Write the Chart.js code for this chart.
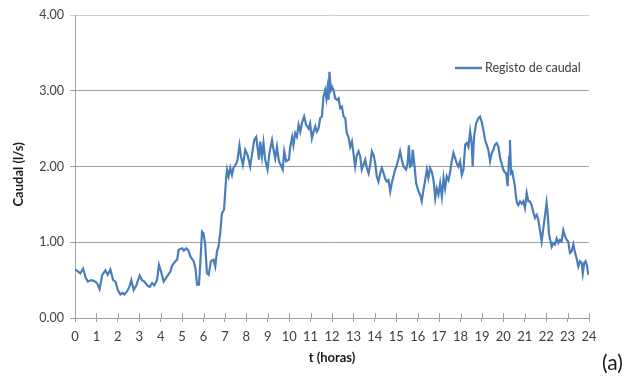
<!DOCTYPE html>
<html>
<head>
<meta charset="utf-8">
<script src="https://cdn.jsdelivr.net/npm/chart.js@4.4.0/dist/chart.umd.min.js"></script>
<style>
  html, body { margin: 0; padding: 0; background: #fff; }
  #wrap { position: relative; width: 629px; height: 379px; }
  #tag { position: absolute; left: 602px; top: 349px; font-family: Lato, "Open Sans", sans-serif; font-size: 21px; line-height: 26px; color: #1a1a1a; }
</style>
</head>
<body>
<div id="wrap">
  <canvas id="c" width="629" height="379"></canvas>
  <div id="tag">(a)</div>
</div>
<script>
// Registo de caudal ao longo de um dia (t em horas, caudal em l/s)
const horas = [
  0.00,0.12,0.25,0.38,0.50,0.60,0.75,0.88,1.03,1.15,1.27,1.42,1.53,1.65,1.78,1.89,
  2.00,2.12,2.22,2.30,2.43,2.55,2.63,2.74,2.86,3.02,3.13,3.24,3.37,3.49,3.60,3.70,3.83,3.92,
  4.02,4.14,4.30,4.45,4.53,4.69,4.77,4.84,5.00,5.08,5.20,5.30,5.39,5.54,5.62,5.70,5.79,5.85,5.93,
  6.00,6.08,6.16,6.24,6.35,6.47,6.55,6.63,6.70,6.78,6.86,6.96,7.05,7.10,7.17,7.25,7.33,7.40,7.53,7.59,7.68,7.75,7.84,7.95,
  8.06,8.18,8.26,8.37,8.46,8.52,8.59,8.65,8.73,8.80,8.88,8.99,9.08,9.20,9.27,9.35,9.43,9.52,9.61,9.70,9.77,9.86,9.99,
  10.05,10.14,10.20,10.28,10.36,10.44,10.52,10.59,10.70,10.79,10.91,10.98,11.06,11.14,11.22,11.29,11.37,11.45,11.53,11.60,11.68,11.74,11.79,11.84,11.88,11.95,
  12.01,12.07,12.15,12.23,12.31,12.38,12.46,12.54,12.62,12.69,12.77,12.85,12.93,13.00,13.08,13.16,13.24,13.32,13.39,13.47,13.55,13.63,13.71,13.79,13.86,13.94,
  14.02,14.09,14.17,14.25,14.33,14.41,14.48,14.56,14.64,14.72,14.79,14.87,14.95,15.03,15.11,15.18,15.26,15.34,15.46,15.53,15.59,15.65,15.72,15.77,15.84,15.93,
  16.04,16.11,16.19,16.27,16.35,16.43,16.50,16.58,16.66,16.74,16.82,16.89,16.97,17.05,17.13,17.21,17.28,17.36,17.44,17.52,17.59,17.67,17.75,17.83,17.90,17.98,
  18.06,18.14,18.22,18.29,18.37,18.45,18.52,18.57,18.63,18.73,18.84,18.91,18.99,19.07,19.15,19.22,19.30,19.38,19.46,19.54,19.61,19.69,19.77,19.85,19.92,
  20.00,20.05,20.13,20.20,20.27,20.31,20.36,20.42,20.49,20.54,20.59,20.64,20.70,20.78,20.86,20.93,21.01,21.09,21.17,21.24,21.32,21.40,21.48,21.56,21.63,21.71,21.79,21.87,21.95,
  22.02,22.07,22.13,22.19,22.26,22.33,22.41,22.49,22.57,22.64,22.72,22.80,22.88,22.96,23.03,23.11,23.19,23.27,23.35,23.42,23.50,23.58,23.66,23.71,23.78,23.84,23.90,23.97
];
const caudal = [
  0.64,0.62,0.59,0.65,0.53,0.48,0.50,0.49,0.46,0.38,0.57,0.63,0.57,0.64,0.50,0.48,
  0.37,0.31,0.33,0.31,0.35,0.42,0.50,0.37,0.43,0.56,0.50,0.48,0.43,0.41,0.46,0.43,0.50,0.70,
  0.61,0.48,0.55,0.61,0.69,0.75,0.77,0.90,0.92,0.89,0.92,0.89,0.81,0.75,0.66,0.44,0.44,0.72,1.14,
  1.12,0.97,0.59,0.57,0.75,0.77,0.68,0.88,0.94,1.12,1.38,1.43,1.82,1.96,1.87,1.98,1.89,1.98,2.04,2.09,2.28,2.13,2.02,2.22,
  2.15,2.00,2.15,2.35,2.39,2.26,2.09,2.33,2.13,2.31,2.09,1.96,2.18,2.35,2.22,2.11,2.26,2.07,2.02,1.96,2.20,2.07,2.09,
  2.26,2.39,2.28,2.44,2.39,2.55,2.46,2.57,2.66,2.55,2.50,2.57,2.37,2.46,2.53,2.46,2.50,2.64,2.66,2.92,3.01,2.90,3.03,2.88,3.25,3.01,
  3.05,3.01,2.90,2.88,2.90,2.77,2.79,2.66,2.64,2.44,2.39,2.26,2.33,2.18,2.00,2.15,2.20,2.13,1.96,2.02,2.09,1.98,1.91,2.04,2.20,2.15,
  2.04,1.87,1.80,1.91,1.98,1.91,1.84,1.80,1.82,1.67,1.78,1.87,1.96,2.02,2.11,2.20,2.09,2.00,1.96,2.04,2.28,2.00,2.02,2.22,2.04,1.78,
  1.67,1.63,1.54,1.69,1.82,1.96,1.85,1.98,1.93,1.82,1.58,1.71,1.63,1.78,1.60,1.85,1.71,1.87,1.82,1.93,2.07,2.18,2.11,2.04,2.00,2.07,
  1.89,1.96,2.29,2.31,2.26,2.46,2.31,2.00,2.39,2.57,2.64,2.66,2.59,2.48,2.35,2.29,2.22,2.07,2.18,2.22,2.29,2.31,2.26,2.11,2.04,
  1.96,1.93,1.91,1.74,2.13,2.35,1.91,1.93,1.82,1.74,1.60,1.52,1.49,1.54,1.51,1.54,1.45,1.65,1.54,1.54,1.49,1.40,1.32,1.36,1.30,1.16,1.01,1.19,1.36,
  1.52,1.38,1.12,1.03,0.94,0.99,0.97,1.05,0.99,1.03,1.01,1.16,1.08,1.03,1.01,0.86,0.88,0.97,0.86,0.79,0.68,0.75,0.73,0.59,0.73,0.75,0.70,0.57
];
const serieNome = 'Registo de caudal';
const tituloX = 't (horas)';
const tituloY = 'Caudal (l/s)     ';

const azul = '#4a7ebb';
const cinza = '#a0a0a0';
const fonte = 'Lato, "Open Sans", sans-serif';

// small tick marks that cross the time axis
const marcasX = {
  id: 'marcasX',
  afterDraw(chart) {
    const sx = chart.scales.x, ctx = chart.ctx;
    const yb = chart.chartArea.bottom;
    ctx.save();
    ctx.strokeStyle = cinza;
    ctx.lineWidth = 1;
    sx.ticks.forEach(t => {
      const px = Math.round(sx.getPixelForValue(t.value)) + 0.5;
      ctx.beginPath();
      ctx.moveTo(px, yb - 5);
      ctx.lineTo(px, yb);
      ctx.stroke();
    });
    ctx.restore();
  }
};

// legend drawn inside the plot, upper right
const legendaInterna = {
  id: 'legendaInterna',
  afterDraw(chart) {
    const ctx = chart.ctx;
    const ds = chart.data.datasets[0];
    const x0 = 455, y0 = 68;
    ctx.save();
    ctx.strokeStyle = ds.borderColor;
    ctx.lineWidth = 2.5;
    ctx.beginPath();
    ctx.moveTo(x0, y0);
    ctx.lineTo(x0 + 27, y0);
    ctx.stroke();
    ctx.fillStyle = '#404040';
    ctx.font = '12.5px ' + fonte;
    ctx.textBaseline = 'middle';
    ctx.textAlign = 'left';
    ctx.fillText(ds.label, x0 + 30, y0);
    ctx.restore();
  }
};

new Chart(document.getElementById('c'), {
  type: 'line',
  data: {
    datasets: [{
      label: serieNome,
      data: horas.map((h, i) => ({ x: h, y: caudal[i] })),
      borderColor: azul,
      borderWidth: 2.2,
      pointRadius: 0,
      tension: 0,
      fill: false
    }]
  },
  options: {
    responsive: false,
    animation: false,
    layout: { padding: { top: 15, right: 40, left: 0, bottom: 0 } },
    plugins: { legend: { display: false }, tooltip: { enabled: false } },
    scales: {
      x: {
        type: 'linear', min: 0, max: 24,
        afterFit: s => { s.height = 61; },
        ticks: { stepSize: 1, autoSkip: false, maxRotation: 0, color: '#404040', font: { family: fonte, size: 13 }, padding: 7 },
        grid: { drawOnChartArea: false, drawTicks: true, tickLength: 4, color: cinza },
        border: { color: cinza },
        title: { display: true, text: tituloX, color: '#1a1a1a', font: { family: fonte, size: 13, weight: 'bold' }, padding: { top: 0, bottom: 13 } }
      },
      y: {
        min: 0, max: 4,
        afterFit: s => { s.width = 75; },
        ticks: { stepSize: 1, color: '#404040', font: { family: fonte, size: 12.5 }, padding: 6, callback: v => v.toFixed(2) },
        grid: { tickLength: 5, color: c => (c.tick && c.tick.value === 4 ? '#cfcfcf' : cinza) },
        border: { color: cinza },
        title: { display: true, text: tituloY, color: '#1a1a1a', font: { family: fonte, size: 13, weight: 'bold' }, padding: { top: 11, bottom: 0 } }
      }
    }
  },
  plugins: [marcasX, legendaInterna]
});
</script>
</body>
</html>
